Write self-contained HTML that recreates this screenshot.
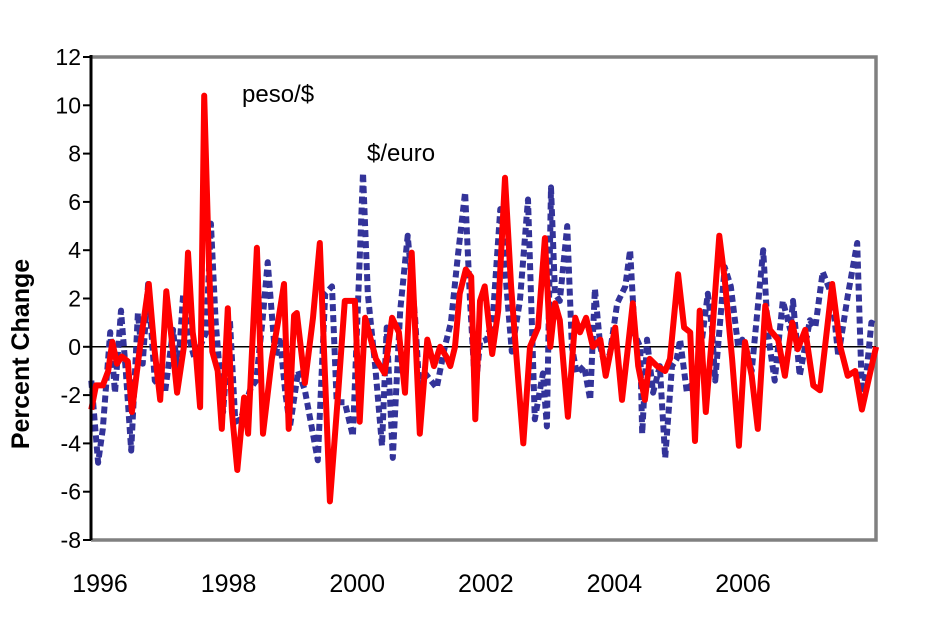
<!DOCTYPE html>
<html><head><meta charset="utf-8">
<style>
html,body{margin:0;padding:0;background:#fff;}
svg{display:block;font-family:"Liberation Sans",Arial,sans-serif;}
</style></head>
<body>
<svg id="chart" width="936" height="620" viewBox="0 0 936 620" xmlns="http://www.w3.org/2000/svg">
<rect x="0" y="0" width="936" height="620" fill="#fff"/>
<g id="grid"></g>
<g id="series"></g>
<g id="axes"></g>
<text x="242" y="102" font-size="24" fill="#000">peso/$</text>
<text x="367" y="161" font-size="24" fill="#000">$/euro</text>
<text transform="translate(29,354) rotate(-90)" text-anchor="middle" font-size="25" font-weight="bold" fill="#000">Percent Change</text>
</svg>
<script>
const yTicks = [-8,-6,-4,-2,0,2,4,6,8,10,12];
const xTickYears = [1996,1998,2000,2002,2004,2006];
const pesoDates = [1995.96,1996.03,1996.13,1996.21,1996.27,1996.34,1996.41,1996.50,1996.56,1996.68,1996.81,1996.89,1996.98,1997.07,1997.15,1997.23,1997.33,1997.39,1997.46,1997.51,1997.57,1997.63,1997.70,1997.75,1997.83,1997.89,1997.98,1998.04,1998.12,1998.22,1998.28,1998.41,1998.50,1998.63,1998.72,1998.81,1998.88,1998.96,1999.00,1999.12,1999.24,1999.34,1999.49,1999.61,1999.71,1999.86,1999.93,2000.01,2000.17,2000.30,2000.41,2000.51,2000.60,2000.70,2000.82,2000.93,2001.03,2001.12,2001.21,2001.27,2001.34,2001.41,2001.50,2001.58,2001.64,2001.71,2001.78,2001.89,2001.98,2002.08,2002.17,2002.27,2002.35,2002.45,2002.57,2002.67,2002.75,2002.82,2002.89,2003.01,2003.12,2003.19,2003.28,2003.38,2003.49,2003.57,2003.71,2003.81,2003.90,2003.97,2004.05,2004.15,2004.22,2004.33,2004.45,2004.52,2004.64,2004.73,2004.82,2004.89,2004.96,2005.05,2005.14,2005.25,2005.33,2005.44,2005.54,2005.63,2005.73,2005.82,2005.93,2006.00,2006.12,2006.22,2006.33,2006.41,2006.52,2006.64,2006.74,2006.92,2007.04,2007.15,2007.26,2007.36,2007.48,2007.57];
const pesoValues = [-2.6,-1.6,-1.6,-1.0,0.2,-0.7,-0.4,-0.6,-2.7,0,2.6,0,-2.2,2.3,0.3,-1.9,0,3.9,0.6,-0.4,-2.5,10.4,3.5,-0.2,-1.0,-3.4,1.6,-2.7,-5.1,-2.1,-3.6,4.1,-3.6,-0.5,1.0,2.6,-3.4,1.3,1.4,-1.5,1.2,4.3,-6.4,-2.0,1.9,1.9,-3.1,1.2,-0.5,-1.1,1.2,0.6,-1.9,3.9,-3.6,0.3,-0.8,0,-0.4,-0.8,0,2.2,3.2,2.9,-3.0,1.9,2.5,-0.3,1.5,7.0,2.5,-1.2,-4.0,0,0.8,4.5,0,1.8,1.1,-2.9,1.2,0.6,1.2,0,0.3,-1.2,0.8,-2.2,0,1.8,-0.8,-2.2,-0.5,-0.8,-1.0,-0.5,3.0,0.8,0.6,-3.9,1.5,-2.7,0.4,4.6,2.8,-0.5,-4.1,0.2,-1.2,-3.4,1.7,0.7,0.3,-1.2,1.0,-0.1,0.7,-1.6,-1.8,2.6,0,-1.2,-1.0,-2.6,-1.1,0];
const euroDates = [1995.96,1996.06,1996.13,1996.24,1996.31,1996.40,1996.47,1996.55,1996.65,1996.72,1996.80,1996.90,1997.05,1997.17,1997.24,1997.32,1997.41,1997.49,1997.66,1997.73,1997.80,1997.91,1998.01,1998.09,1998.17,1998.32,1998.40,1998.49,1998.57,1998.68,1998.75,1998.83,1998.90,1999.02,1999.12,1999.31,1999.42,1999.52,1999.59,1999.71,1999.83,1999.98,2000.05,2000.16,2000.26,2000.33,2000.42,2000.53,2000.64,2000.75,2000.82,2000.90,2001.07,2001.19,2001.28,2001.38,2001.49,2001.56,2001.64,2001.71,2001.81,2001.90,2002.01,2002.11,2002.18,2002.30,2002.42,2002.48,2002.52,2002.64,2002.70,2002.76,2002.82,2002.89,2003.00,2003.07,2003.14,2003.25,2003.34,2003.41,2003.49,2003.56,2003.63,2003.74,2003.86,2003.93,2004.00,2004.08,2004.11,2004.18,2004.27,2004.37,2004.45,2004.55,2004.62,2004.67,2004.77,2004.93,2005.08,2005.14,2005.19,2005.33,2005.42,2005.53,2005.59,2005.73,2005.90,2005.97,2006.07,2006.19,2006.30,2006.34,2006.44,2006.59,2006.67,2006.78,2006.92,2007.01,2007.15,2007.29,2007.36,2007.43,2007.50,2007.57];
const euroValues = [-1.4,-4.8,-3.4,0.6,-1.9,1.5,-1.0,-4.3,1.4,-0.7,2.6,-1.4,-1.9,0.7,-1.1,2.2,0.3,-0.5,0.6,5.1,1.0,-2.7,1.1,-3.1,-3.0,-1.7,-1.4,1.0,3.5,-0.4,0.4,-1.9,-3.3,-1.0,-1.8,-4.7,2.2,2.5,-2.3,-2.3,-3.7,7.2,2.2,-0.8,-4.1,0.8,-4.6,1.5,4.6,1.2,-2.0,-1.1,-1.7,0,1.0,3.7,6.4,2.0,-1.9,0.2,0.3,1.2,5.7,2.2,-0.2,1.9,6.1,0.8,-3.0,-1.1,-3.3,6.6,2.2,1.9,5.0,0,-1.1,-0.8,-2.2,2.4,0,-0.8,-0.3,1.8,2.5,4.0,0.5,0,-3.6,0.3,-1.9,-0.8,-4.6,-0.8,-0.5,0.3,-1.9,-1.1,2.2,0.8,-1.4,3.3,2.5,0,0.3,-1.0,4.0,0.5,-1.4,1.9,0.7,1.9,-1.2,1.1,0.8,3.1,2.1,-0.4,2.1,4.3,-1.9,-1.0,1.0,0.9];

const NS = 'http://www.w3.org/2000/svg';
const L = 91, R = 876, T = 57, B = 540;
const yMin = -8, yMax = 12;
const x0Year = 1996, x0Px = 94, pxPerYear = 67.6;
function xScale(yr){ return x0Px + (yr - x0Year) * pxPerYear; }
function labelScale(yr){ return 100 + (yr - x0Year) * 64.3; }
function yScale(v){ return B - (v - yMin) / (yMax - yMin) * (B - T); }
function mk(tag, attrs){ const e = document.createElementNS(NS, tag); for (const k in attrs) e.setAttribute(k, attrs[k]); return e; }

const axes = document.getElementById('axes');
const series = document.getElementById('series');
const grid = document.getElementById('grid');

const frame = mk('path', {d:`M${L},${T} H${R} V${B} H${L}`, fill:'none', stroke:'#808080', 'stroke-width':3.5});


grid.appendChild(frame);

const zl = mk('line', {x1:L, x2:R, y1:yScale(0), y2:yScale(0), stroke:'#000', 'stroke-width':1.5});


grid.appendChild(zl);

function lineFrom(dates, vals){
  return dates.map((d,i)=>(i?'L':'M')+xScale(d).toFixed(1)+','+yScale(vals[i]).toFixed(1)).join(' ');
}
const euro = mk('path', {d:lineFrom(euroDates, euroValues), fill:'none', stroke:'#333399', 'stroke-width':6, 'stroke-dasharray':'7 4', 'stroke-linejoin':'round'});


series.appendChild(euro);
const peso = mk('path', {d:lineFrom(pesoDates, pesoValues), fill:'none', stroke:'#ff0000', 'stroke-width':6, 'stroke-linejoin':'round'});


series.appendChild(peso);

const ya = mk('line', {x1:L, x2:L, y1:T-2, y2:B, stroke:'#000', 'stroke-width':3});


axes.appendChild(ya);
yTicks.forEach(v=>{
  const y = yScale(v);
  const t = mk('line', {x1:L-8, x2:L, y1:y, y2:y, stroke:'#000', 'stroke-width':2});
  
  
  axes.appendChild(t);
  const lb = mk('text', {x:81, y:y+8, 'text-anchor':'end', 'font-size':23, fill:'#000'});
  lb.textContent = v;
  
  
  axes.appendChild(lb);
});
xTickYears.forEach(yr=>{
  const lb = mk('text', {x:labelScale(yr), y:592, 'text-anchor':'middle', 'font-size':25, fill:'#000'});
  lb.textContent = yr;
  
  
  axes.appendChild(lb);
});
</script>
</body></html>
